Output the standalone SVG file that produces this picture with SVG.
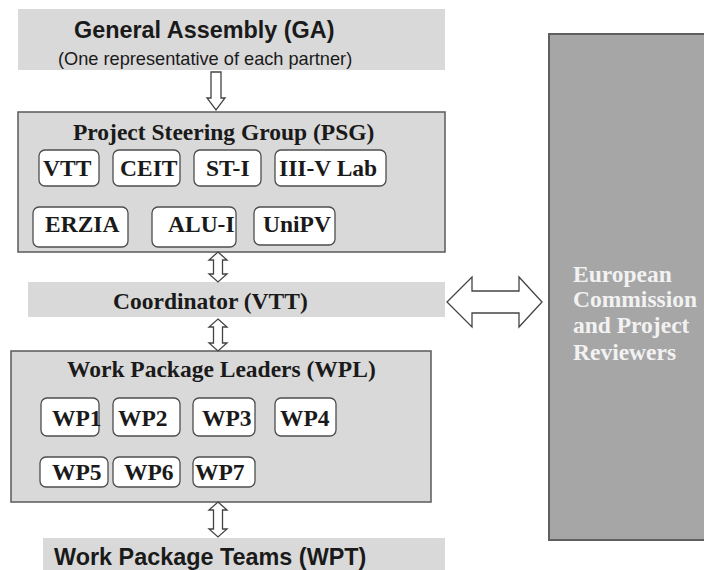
<svg xmlns="http://www.w3.org/2000/svg" width="704" height="570" viewBox="0 0 704 570">
  <style>
    .band { fill: #d9d9d9; }
    .panel { fill: #d9d9d9; stroke: #5a5a5a; stroke-width: 1.5; }
    .chip { fill: #ffffff; stroke: #4d4d4d; stroke-width: 1.3; }
    .ec { fill: #a6a6a6; stroke: #5f5f5f; stroke-width: 2; }
    .arrow { fill: #ffffff; stroke: #444444; stroke-width: 1.3; stroke-linejoin: miter; }
    .sans { font-family: "Liberation Sans", Arial, sans-serif; fill: #1a1a1a; }
    .serif { font-family: "Liberation Serif", "Times New Roman", serif; font-weight: bold; font-size: 23.5px; fill: #1a1a1a; }
    .h-sans { font-weight: bold; font-size: 23.4px; }
    .sub { font-size: 18.2px; }
    .light { fill: #f2f2f2; }
  </style>

  <!-- General Assembly -->
  <g id="ga">
    <rect class="band" x="18" y="9" width="427" height="61"/>
    <text class="sans h-sans" x="74" y="38">General Assembly (GA)</text>
    <text class="sans sub" x="58" y="65">(One representative of each partner)</text>
  </g>

  <!-- Project Steering Group and its partners -->
  <g id="psg">
    <rect class="panel" x="18" y="112" width="427" height="140"/>
    <text class="serif" x="73" y="140">Project Steering Group (PSG)</text>
  </g>
  <g id="psg-vtt"><rect class="chip" x="39" y="150" width="60" height="36" rx="6"/><text class="serif" x="43" y="176">VTT</text></g>
  <g id="psg-ceit"><rect class="chip" x="113" y="150" width="67" height="36" rx="6"/><text class="serif" x="120" y="176">CEIT</text></g>
  <g id="psg-sti"><rect class="chip" x="194" y="150" width="67" height="36" rx="6"/><text class="serif" x="206" y="176">ST-I</text></g>
  <g id="psg-3v"><rect class="chip" x="275" y="150" width="111" height="36" rx="6"/><text class="serif" x="279" y="176">III-V Lab</text></g>
  <g id="psg-erzia"><rect class="chip" x="33" y="207" width="95" height="40" rx="6"/><text class="serif" x="45" y="232">ERZIA</text></g>
  <g id="psg-alui"><rect class="chip" x="152" y="207" width="84" height="40" rx="6"/><text class="serif" x="168" y="232">ALU-I</text></g>
  <g id="psg-unipv"><rect class="chip" x="254" y="207" width="81" height="38" rx="6"/><text class="serif" x="263" y="232">UniPV</text></g>

  <!-- Coordinator -->
  <g id="coordinator">
    <rect class="band" x="28" y="282" width="417" height="35"/>
    <text class="serif" x="113" y="309">Coordinator (VTT)</text>
  </g>

  <!-- Work Package Leaders -->
  <g id="wpl">
    <rect class="panel" x="11" y="351" width="420" height="151"/>
    <text class="serif" x="67" y="377">Work Package Leaders (WPL)</text>
  </g>
  <g id="wp1"><rect class="chip" x="41" y="398" width="58" height="38" rx="6"/><text class="serif" x="52" y="426">WP1</text></g>
  <g id="wp2"><rect class="chip" x="113" y="398" width="67" height="38" rx="6"/><text class="serif" x="118" y="426">WP2</text></g>
  <g id="wp3"><rect class="chip" x="193" y="398" width="62" height="38" rx="6"/><text class="serif" x="202" y="426">WP3</text></g>
  <g id="wp4"><rect class="chip" x="275" y="398" width="61" height="38" rx="6"/><text class="serif" x="280" y="426">WP4</text></g>
  <g id="wp5"><rect class="chip" x="40" y="457" width="68" height="30" rx="6"/><text class="serif" x="52" y="480">WP5</text></g>
  <g id="wp6"><rect class="chip" x="113" y="457" width="67" height="30" rx="6"/><text class="serif" x="124" y="480">WP6</text></g>
  <g id="wp7"><rect class="chip" x="193" y="457" width="62" height="30" rx="6"/><text class="serif" x="195" y="480">WP7</text></g>

  <!-- Work Package Teams -->
  <g id="wpt">
    <rect class="band" x="43" y="538" width="402" height="40"/>
    <text class="sans h-sans" x="54" y="565">Work Package Teams (WPT)</text>
  </g>

  <!-- European Commission -->
  <g id="ec">
    <rect class="ec" x="549" y="34" width="170" height="506"/>
    <text class="serif light" x="573" y="282">European</text>
    <text class="serif light" x="573" y="307">Commission</text>
    <text class="serif light" x="573" y="333">and Project</text>
    <text class="serif light" x="573" y="360">Reviewers</text>
  </g>

  <!-- Block arrows -->
  <g id="connectors">
    <path class="arrow" d="M211,72 L221,72 L221,98 L225,98 L216,110 L207,98 L211,98 Z"/>
    <path class="arrow" d="M218,252 L227,260 L222.5,260 L222.5,274 L227,274 L218,282 L209,274 L213.5,274 L213.5,260 L209,260 Z"/>
    <path class="arrow" d="M218,319 L227,327 L222.5,327 L222.5,343 L227,343 L218,351 L209,343 L213.5,343 L213.5,327 L209,327 Z"/>
    <path class="arrow" d="M218,502 L227,510 L222.5,510 L222.5,529 L227,529 L218,537 L209,529 L213.5,529 L213.5,510 L209,510 Z"/>
    <path class="arrow" d="M447,302 L472,277 L472,291 L519,291 L519,277 L542,302 L519,327 L519,313 L472,313 L472,327 Z"/>
  </g>
</svg>
